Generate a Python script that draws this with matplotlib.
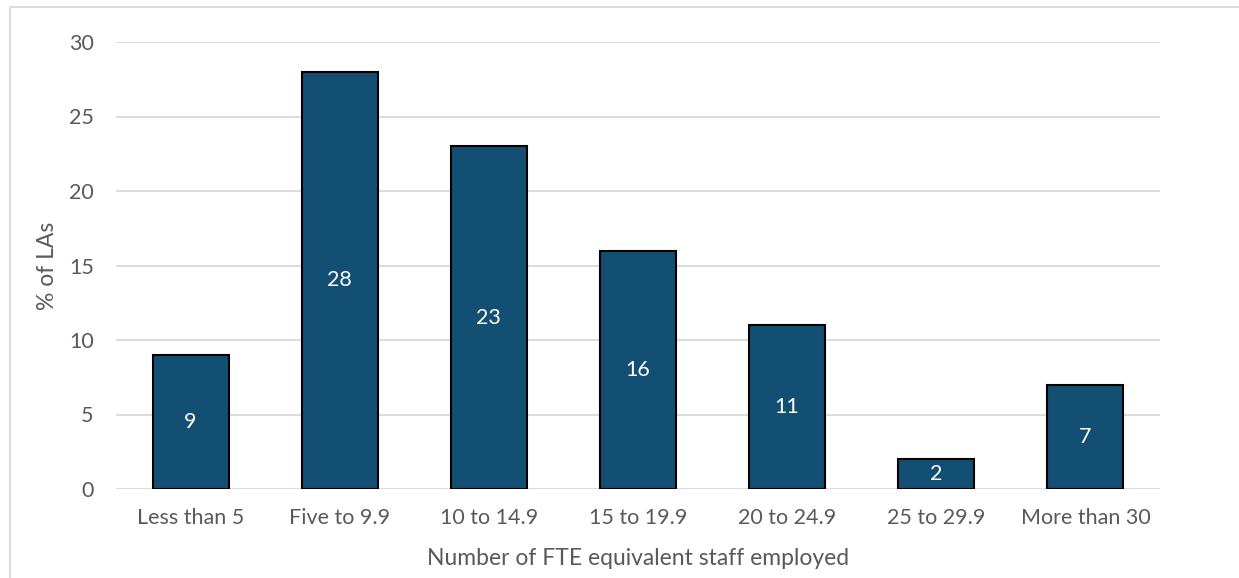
import matplotlib
matplotlib.use('Agg')
import matplotlib.pyplot as plt
from matplotlib.lines import Line2D

# data
categories = ['Less than 5', 'Five to 9.9', '10 to 14.9', '15 to 19.9',
              '20 to 24.9', '25 to 29.9', 'More than 30']
pct_las = [9, 28, 23, 16, 11, 2, 7]
y_ticks = [0, 5, 10, 15, 20, 25, 30]

plt.rcParams['font.family'] = ['Lato', 'DejaVu Sans']
textCol = '#595959'
barCol = '#124F73'

fig = plt.figure(figsize=(12.39, 5.78), dpi=100)
ax = fig.add_axes([116/1239, 1 - 489/578, (1160 - 116)/1239, (489 - 42)/578])

xpos = list(range(len(categories)))
bars = ax.bar(xpos, pct_las, width=0.51, color=barCol, edgecolor='black',
              linewidth=1.5, zorder=3)

# white value labels in the middle of each bar
for b, v in zip(bars, pct_las):
    ax.text(b.get_x() + b.get_width()/2, v/2, str(v), ha='center', va='center',
            color='white', fontsize=15.5, zorder=4)

ax.set_xlim(-0.5, len(categories) - 0.5)
ax.set_ylim(0, 30)
ax.set_yticks(y_ticks)
ax.set_xticks(xpos)
ax.set_xticklabels(categories)
ax.tick_params(axis='both', length=0, labelsize=15.5, colors=textCol)
ax.tick_params(axis='y', pad=16)
ax.tick_params(axis='x', pad=14)
ax.yaxis.grid(True, color='#D9D9D9', linewidth=1.3, zorder=0)
for s in ax.spines.values():
    s.set_visible(False)

ax.set_xlabel('Number of FTE equivalent staff employed', fontsize=16.5,
              color=textCol, labelpad=14)
ax.set_ylabel('% of LAs', fontsize=16.5, color=textCol, labelpad=8)

# light frame round the chart area (left and top visible)
fig.add_artist(Line2D([10/1239, 10/1239, 1.0], [0.0, 1 - 7/578, 1 - 7/578],
                      transform=fig.transFigure, color='#D9D9D9', linewidth=1.3))

fig.savefig('out.png', dpi=100)
